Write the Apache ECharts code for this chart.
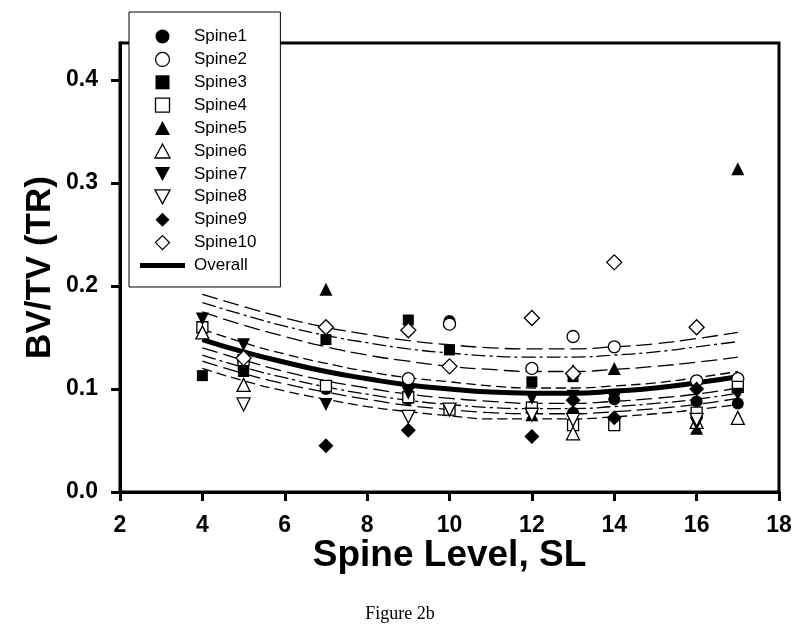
<!DOCTYPE html>
<html><head><meta charset="utf-8">
<script src="https://cdn.jsdelivr.net/npm/echarts@6/dist/echarts.min.js"></script>
<style>html,body{margin:0;padding:0;background:#fff}#c{width:800px;height:635px}</style>
</head><body><div id="c"></div>
<script>
// Spine levels at which measurements were taken
const levels = [4, 5, 7, 9, 10, 12, 13, 14, 16, 17];
const spine1  = [null, 0.120, 0.100, 0.090, 0.166, 0.083, 0.077, 0.090, 0.088, 0.086];
const spine2  = [null, 0.128, null, 0.110, 0.163, 0.120, 0.151, 0.141, 0.108, 0.110];
const spine3  = [0.113, 0.117, 0.148, 0.167, 0.138, 0.107, 0.112, null, null, null];
const spine4  = [0.160, 0.128, 0.103, 0.092, 0.080, 0.082, 0.065, 0.065, 0.077, 0.102];
const spine5  = [null, null, 0.197, null, null, 0.075, 0.118, 0.120, 0.062, 0.314];
const spine6  = [0.155, 0.104, null, null, null, null, 0.057, null, 0.068, 0.072];
const spine7  = [0.168, 0.143, 0.085, 0.096, null, 0.091, 0.093, 0.090, 0.066, 0.095];
const spine8  = [null, 0.085, null, 0.073, 0.080, 0.075, 0.070, null, 0.070, null];
const spine9  = [null, null, 0.045, 0.060, null, 0.054, 0.089, 0.072, 0.100, null];
const spine10 = [null, 0.130, 0.160, 0.157, 0.122, 0.169, 0.115, 0.223, 0.160, null];

// Fitted curve and bands, read at integer spine levels 4..17
const curveX  = [4, 5, 6, 7, 8, 9, 10, 11, 12, 13, 14, 15, 16, 17];
const overall = [0.148,0.136,0.126,0.117,0.110,0.104,0.100,0.097,0.096,0.096,0.098,0.101,0.106,0.112];
const upper1  = [0.192,0.180,0.169,0.160,0.153,0.147,0.143,0.140,0.139,0.139,0.141,0.144,0.149,0.155];
const upper2  = [0.184,0.172,0.161,0.152,0.145,0.139,0.135,0.132,0.131,0.131,0.133,0.136,0.141,0.146];
const upper3  = [0.175,0.162,0.151,0.141,0.133,0.127,0.122,0.119,0.117,0.117,0.119,0.122,0.126,0.131];
const upper4  = [0.158,0.145,0.134,0.125,0.117,0.111,0.107,0.103,0.101,0.101,0.103,0.106,0.111,0.117];
const lower1  = [0.140,0.128,0.117,0.108,0.101,0.095,0.091,0.088,0.086,0.086,0.088,0.091,0.095,0.101];
const lower2  = [0.133,0.121,0.111,0.102,0.095,0.089,0.085,0.082,0.081,0.081,0.083,0.086,0.090,0.096];
const lower3  = [0.127,0.115,0.105,0.097,0.090,0.084,0.080,0.077,0.076,0.076,0.078,0.081,0.085,0.091];
const lower4  = [0.120,0.108,0.098,0.090,0.083,0.078,0.074,0.071,0.071,0.071,0.073,0.076,0.080,0.085];

const xTicks = [2, 4, 6, 8, 10, 12, 14, 16, 18];
const yTicks = [0, 0.1, 0.2, 0.3, 0.4];

const spineNames = ['Spine1','Spine2','Spine3','Spine4','Spine5','Spine6','Spine7','Spine8','Spine9','Spine10'];
const spineData = [spine1,spine2,spine3,spine4,spine5,spine6,spine7,spine8,spine9,spine10];
const styles = [
  {symbol:'circle', fill:true, size:12, rot:0, icon:'path://M7,0A7,7,0,1,1,6.99,0Z'},
  {symbol:'circle', fill:false, size:12, rot:0, icon:'path://M7,0A7,7,0,1,1,6.99,0Z'},
  {symbol:'rect', fill:true, size:11, rot:0, icon:'path://M0,0L12,0L12,12L0,12Z'},
  {symbol:'rect', fill:false, size:11, rot:0, icon:'path://M0,0L12,0L12,12L0,12Z'},
  {symbol:'triangle', fill:true, size:13, rot:0, icon:'path://M7,0L14,13L0,13Z'},
  {symbol:'triangle', fill:false, size:13, rot:0, icon:'path://M7,0L14,13L0,13Z'},
  {symbol:'triangle', fill:true, size:13, rot:180, icon:'path://M0,0L14,0L7,13Z'},
  {symbol:'triangle', fill:false, size:13, rot:180, icon:'path://M0,0L14,0L7,13Z'},
  {symbol:'diamond', fill:true, size:15, rot:0, icon:'path://M7,0L14,7L7,14L0,7Z'},
  {symbol:'diamond', fill:false, size:15, rot:0, icon:'path://M7,0L14,7L7,14L0,7Z'}
];

const series = [];
function band(data, dash, w) {
  return {
    type:'line', data: curveX.map((x,i)=>[x,data[i]]), smooth:true, symbol:'none', silent:true,
    lineStyle:{color:'#000', width:w||1.3, type:dash}, z:2
  };
}
series.push(band(upper1, [16,6]));
series.push(band(upper2, [14,4,3,4]));
series.push(band(upper3, [16,6]));
series.push(band(upper4, [10,5]));
series.push(band(lower1, [16,6]));
series.push(band(lower2, [14,4,3,4]));
series.push(band(lower3, [16,6]));
series.push(band(lower4, [10,5]));
series.push({
  name:'Overall', type:'line', data: curveX.map((x,i)=>[x,overall[i]]), smooth:true,
  symbol:'none', showSymbol:false, lineStyle:{color:'#000', width:5}, itemStyle:{color:'#000'}, z:3
});
spineNames.forEach((n,k)=>{
  const s = styles[k];
  series.push({
    name:n, type:'scatter', symbol:s.symbol, symbolSize:s.size, symbolRotate:s.rot,
    data: levels.map((x,i)=>[x,spineData[k][i]]).filter(p=>p[1]!==null),
    itemStyle:{color: s.fill ? '#000' : '#fff', borderColor:'#000', borderWidth: s.fill ? 0 : 1.3, opacity:1},
    z:4+k
  });
});

const legendData = spineNames.map((n,k)=>({name:n, icon:styles[k].icon,
  itemStyle:{color: styles[k].fill ? '#000' : '#fff', borderColor:'#000', borderWidth: styles[k].fill ? 0 : 1.3}}));
legendData.push({name:'Overall', icon:'path://M0,0L45,0L45,5L0,5Z', itemStyle:{color:'#000', borderWidth:0}});

const chart = echarts.init(document.getElementById('c'), null, {renderer:'canvas'});
chart.setOption({
  animation:false,
  backgroundColor:'#fff',
  grid:{left:120, right:21, top:43, bottom:143, show:true, borderColor:'#000', borderWidth:3, backgroundColor:'transparent'},
  xAxis:{
    type:'value', min:2, max:18, interval:2,
    name:'Spine Level, SL', nameLocation:'middle', nameGap:45, nameMoveOverlap:false,
    nameTextStyle:{fontFamily:'Liberation Sans', fontWeight:'bold', fontSize:37, color:'#000'},
    axisLine:{show:true, lineStyle:{color:'#000', width:3}},
    axisTick:{show:true, inside:false, length:9, lineStyle:{color:'#000', width:3}, customValues:xTicks},
    axisLabel:{fontFamily:'Liberation Sans', fontWeight:'bold', fontSize:23, color:'#000', margin:22, customValues:xTicks},
    splitLine:{show:false}
  },
  yAxis:{
    type:'value', min:0, max:0.436, interval:0.1,
    name:'BV/TV (TR)', nameLocation:'middle', nameGap:62, nameRotate:90, nameMoveOverlap:false,
    nameTextStyle:{fontFamily:'Liberation Sans', fontWeight:'bold', fontSize:35, color:'#000'},
    axisLine:{show:true, lineStyle:{color:'#000', width:3}},
    axisTick:{show:true, inside:false, length:9, lineStyle:{color:'#000', width:3}, customValues:yTicks},
    axisLabel:{fontFamily:'Liberation Sans', fontWeight:'bold', fontSize:23, color:'#000', margin:22,
      customValues:yTicks, formatter:(v)=>v.toFixed(1)},
    splitLine:{show:false}
  },
  legend:{
    data: legendData,
    orient:'vertical', left:129, top:12,
    padding:[16,24,13,11],
    itemWidth:45, itemHeight:14, itemGap:5.9, symbolKeepAspect:true,
    backgroundColor:'#fff', borderColor:'#000', borderWidth:1,
    textStyle:{fontFamily:'Liberation Sans', fontSize:17, color:'#000', padding:[0,0,0,4]},
    selectedMode:false, z:20
  },
  graphic:[{
    type:'text', left:'center', top:605,
    style:{text:'Figure 2b', font:'18px "Liberation Serif"', fill:'#000'}
  }],
  series: series
});
</script></body></html>
